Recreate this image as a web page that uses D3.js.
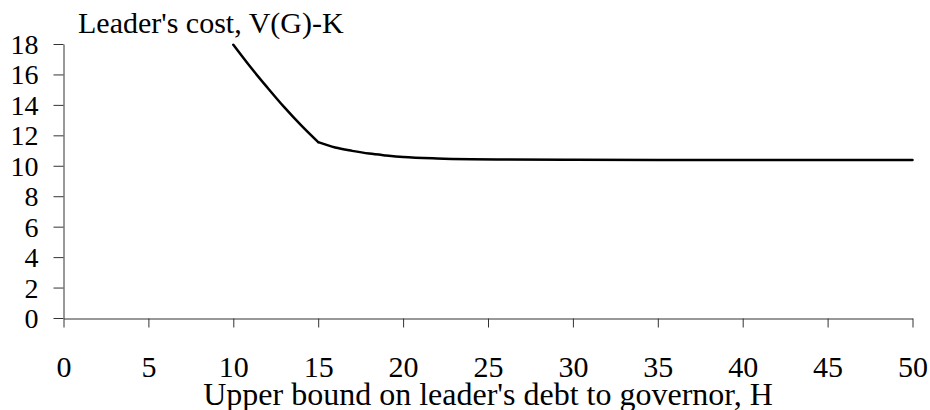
<!DOCTYPE html>
<html>
<head>
<meta charset="utf-8">
<script src="https://cdn.jsdelivr.net/npm/d3@7"></script>
<style>
  body { margin: 0; background: #fff; }
  svg text { font-family: "Liberation Serif", "Times New Roman", serif; fill: #000; }
</style>
</head>
<body>
<div id="chart"></div>
<script>
// Chart size, same as the browser window.
var w = 930,
    h = 410;

// Upper bound on the debt, H (x values).
var debtBound = [10, 11, 12, 13, 14, 15, 16, 17, 18, 19, 20, 22, 24, 26, 30, 35, 40, 45, 50];

// Leader's cost, V(G)-K.
var leaderCost = [17.95, 16.5, 15.15, 13.85, 12.65, 11.55, 11.2, 10.98, 10.8, 10.68, 10.58, 10.48, 10.43, 10.41, 10.39, 10.38, 10.38, 10.38, 10.38];

// H where the curve has its kink (the two branches meet).
var kinkH = 15;

// Tick values for both axes.
var xTicks = [0, 5, 10, 15, 20, 25, 30, 35, 40, 45, 50],
    yTicks = [0, 2, 4, 6, 8, 10, 12, 14, 16, 18];

// Plot area edges in pixels ("top" is taken by window.top, so use plot*).
var plotLeft = 63.5,
    plotRight = 912.5,
    plotTop = 44,
    plotBottom = 318;

var svg = d3.select("#chart")
    .append("svg")
    .attr("width", w)
    .attr("height", h);

var x = d3.scaleLinear().domain([0, 50]).range([plotLeft, plotRight]);
var y = d3.scaleLinear().domain([0, 18]).range([plotBottom, plotTop]);

// x axis, ticks point down
var xAxis = svg.append("g")
    .attr("transform", "translate(0," + (plotBottom + 0.5) + ")")
    .call(d3.axisBottom(x).tickValues(xTicks).tickSize(9).tickSizeOuter(0).tickPadding(0));
xAxis.selectAll("text")
    .attr("y", 58)
    .attr("dy", 0)
    .style("font-size", "30px");

// y axis, ticks point left
var yAxis = svg.append("g")
    .attr("transform", "translate(" + plotLeft + ",0)")
    .call(d3.axisLeft(y).tickValues(yTicks).tickSize(10).tickSizeOuter(0).tickPadding(15));
yAxis.selectAll("text")
    .attr("dy", "0.34em")
    .style("font-size", "28px");

svg.selectAll(".domain, .tick line")
    .attr("stroke", "#333")
    .attr("stroke-width", 1);

// cost curve: two smooth branches meeting at the kink
var points = debtBound.map(function (d, i) { return [d, leaderCost[i]]; });
var branches = [
    points.filter(function (p) { return p[0] <= kinkH; }),
    points.filter(function (p) { return p[0] >= kinkH; })
];

var line = d3.line()
    .x(function (d) { return x(d[0]); })
    .y(function (d) { return y(d[1]); })
    .curve(d3.curveMonotoneX);

svg.selectAll("path.cost")
    .data(branches)
    .enter()
    .append("path")
    .attr("class", "cost")
    .attr("d", line)
    .attr("fill", "none")
    .attr("stroke", "#000")
    .attr("stroke-width", 2.5)
    .attr("stroke-linejoin", "round")
    .attr("stroke-linecap", "round");

// titles
svg.append("text")
    .attr("x", 78)
    .attr("y", 33)
    .style("font-size", "30px")
    .text("Leader's cost, V(G)-K");

svg.append("text")
    .attr("x", (plotLeft + plotRight) / 2)
    .attr("y", 405)
    .attr("text-anchor", "middle")
    .style("font-size", "32px")
    .text("Upper bound on leader's debt to governor, H");
</script>
</body>
</html>
